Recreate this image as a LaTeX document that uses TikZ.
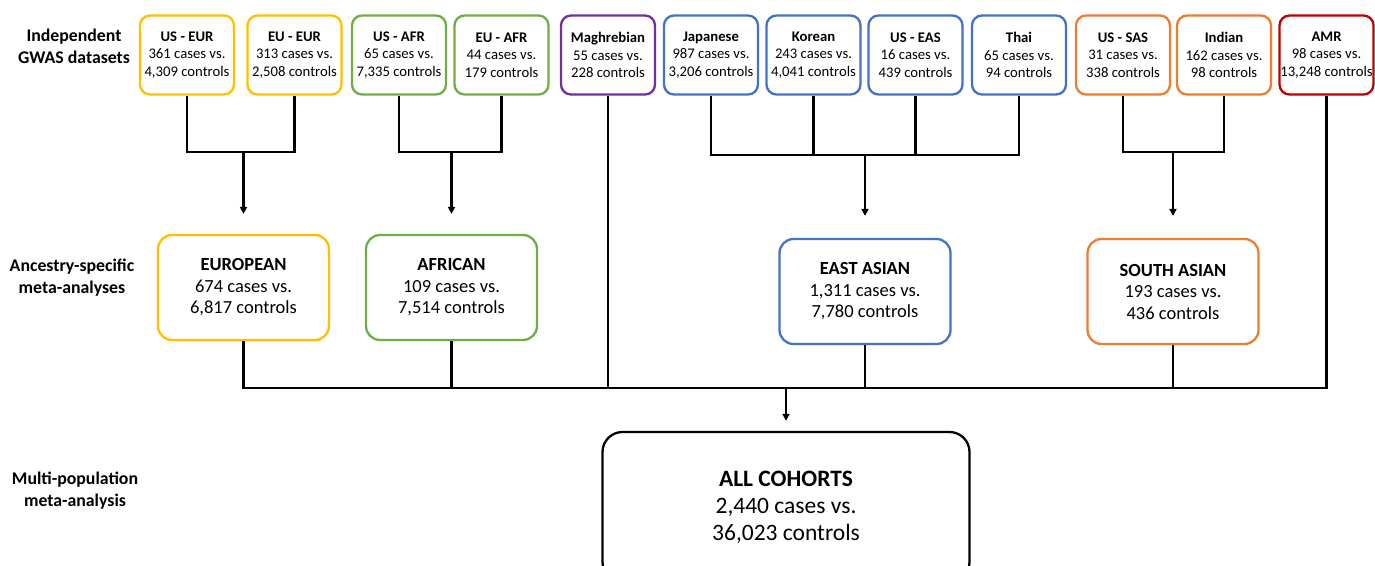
\documentclass[tikz,border=0pt]{standalone}
\usepackage{fontspec}
\setmainfont{Carlito}
\usetikzlibrary{arrows.meta}
\definecolor{cyel}{HTML}{FFC000}
\definecolor{cgrn}{HTML}{70AD47}
\definecolor{cpur}{HTML}{7030A0}
\definecolor{cblu}{HTML}{4472C4}
\definecolor{corg}{HTML}{ED7D31}
\definecolor{cred}{HTML}{C00000}
\begin{document}
\begin{tikzpicture}[x=1pt,y=-1pt,
 sbox/.style={draw, line width=2.3pt, rounded corners=10pt, minimum width=94pt, minimum height=79pt, align=center, font=\fontsize{14.7}{17.5}\selectfont, inner sep=0pt, fill=white},
 mbox/.style={draw, line width=2.3pt, rounded corners=14pt, minimum width=171pt, minimum height=105pt, align=center, font=\fontsize{18.5}{21.5}\selectfont, inner sep=0pt, fill=white},
 bbox/.style={draw, line width=2.3pt, rounded corners=20pt, minimum width=367pt, minimum height=150pt, align=center, font=\fontsize{23.5}{27}\selectfont, inner sep=0pt, fill=white},
 conn/.style={line width=2.2pt},
 arr/.style={line width=2.2pt, -{Triangle[length=7pt,width=7pt]}},
 lab/.style={align=center, font=\bfseries\fontsize{17.8}{22}\selectfont}
]
\useasboundingbox (0,0) rectangle (1375,565);
\fill[white] (0,0) rectangle (1375,565);
% row labels
\node[lab] (l1) at (74,46) {Independent\\GWAS datasets};
\node[lab] (l2) at (72,278) {Ancestry-specific\\meta-analyses};
\node[lab] (l3) at (75,491) {Multi-population\\meta-analysis};
% top row
\node[sbox, draw=cyel] (useur) at (187,55) {\textbf{US - EUR}\\361 cases vs.\\4,309 controls};
\node[sbox, draw=cyel] (eueur) at (294.5,55) {\textbf{EU - EUR}\\313 cases vs.\\2,508 controls};
\node[sbox, draw=cgrn] (usafr) at (399,55) {\textbf{US - AFR}\\65 cases vs.\\7,335 controls};
\node[sbox, draw=cgrn] (euafr) at (501.5,55) {\textbf{EU - AFR}\\44 cases vs.\\179 controls};
\node[sbox, draw=cpur] (magh) at (608,55) {\textbf{Maghrebian}\\55 cases vs.\\228 controls};
\node[sbox, draw=cblu] (jap) at (711,55) {\textbf{Japanese}\\987 cases vs.\\3,206 controls};
\node[sbox, draw=cblu] (kor) at (813.5,55) {\textbf{Korean}\\243 cases vs.\\4,041 controls};
\node[sbox, draw=cblu] (useas) at (915.5,55) {\textbf{US - EAS}\\16 cases vs.\\439 controls};
\node[sbox, draw=cblu] (thai) at (1019,55) {\textbf{Thai}\\65 cases vs.\\94 controls};
\node[sbox, draw=corg] (ussas) at (1123,55) {\textbf{US - SAS}\\31 cases vs.\\338 controls};
\node[sbox, draw=corg] (ind) at (1224,55) {\textbf{Indian}\\162 cases vs.\\98 controls};
\node[sbox, draw=cred] (amr) at (1326.5,55) {\textbf{AMR}\\98 cases vs.\\13,248 controls};
% middle row
\node[mbox, draw=cyel] (eur) at (243.5,287.5) {\textbf{EUROPEAN}\\674 cases vs.\\6,817 controls};
\node[mbox, draw=cgrn] (afr) at (451.5,287.5) {\textbf{AFRICAN}\\109 cases vs.\\7,514 controls};
\node[mbox, draw=cblu] (eas) at (865,291.5) {\textbf{EAST ASIAN}\\1,311 cases vs.\\7,780 controls};
\node[mbox, draw=corg] (sas) at (1173,291.5) {\textbf{SOUTH ASIAN}\\193 cases vs.\\436 controls};
% bottom
\node[bbox, draw=black] (all) at (786,507) {\textbf{ALL COHORTS}\\2,440 cases vs.\\36,023 controls};
% connectors top
\coordinate (yt) at (0,152);
\coordinate (yte) at (0,155);
\coordinate (yb) at (0,388);
\coordinate (heur) at (eur.north |- yt);
\coordinate (hafr) at (afr.north |- yt);
\coordinate (heas) at (eas.north |- yte);
\coordinate (hsas) at (sas.north |- yt);
\draw[conn] (useur.south) |- (heur) -| (eueur.south);
\draw[conn] (usafr.south) |- (hafr) -| (euafr.south);
\draw[conn] (jap.south) |- (heas) -| (thai.south);
\draw[conn] (kor.south) -- (kor.south |- yte);
\draw[conn] (useas.south) -- (useas.south |- yte);
\draw[conn] (ussas.south) |- (hsas) -| (ind.south);
\draw[arr, shorten >=20pt] (heur) -- (eur.north);
\draw[arr, shorten >=20pt] (hafr) -- (afr.north);
\draw[arr, shorten >=22pt] (heas) -- (eas.north);
\draw[arr, shorten >=22pt] (hsas) -- (sas.north);
% connectors bottom
\draw[conn] (eur.south) |- (amr.south |- yb) -- (amr.south);
\draw[conn] (afr.south) -- (afr.south |- yb);
\draw[conn] (magh.south) -- (magh.south |- yb);
\draw[conn] (eas.south) -- (eas.south |- yb);
\draw[conn] (sas.south) -- (sas.south |- yb);
\draw[arr, shorten >=10pt] (all.north |- yb) -- (all.north);
\end{tikzpicture}
\end{document}
